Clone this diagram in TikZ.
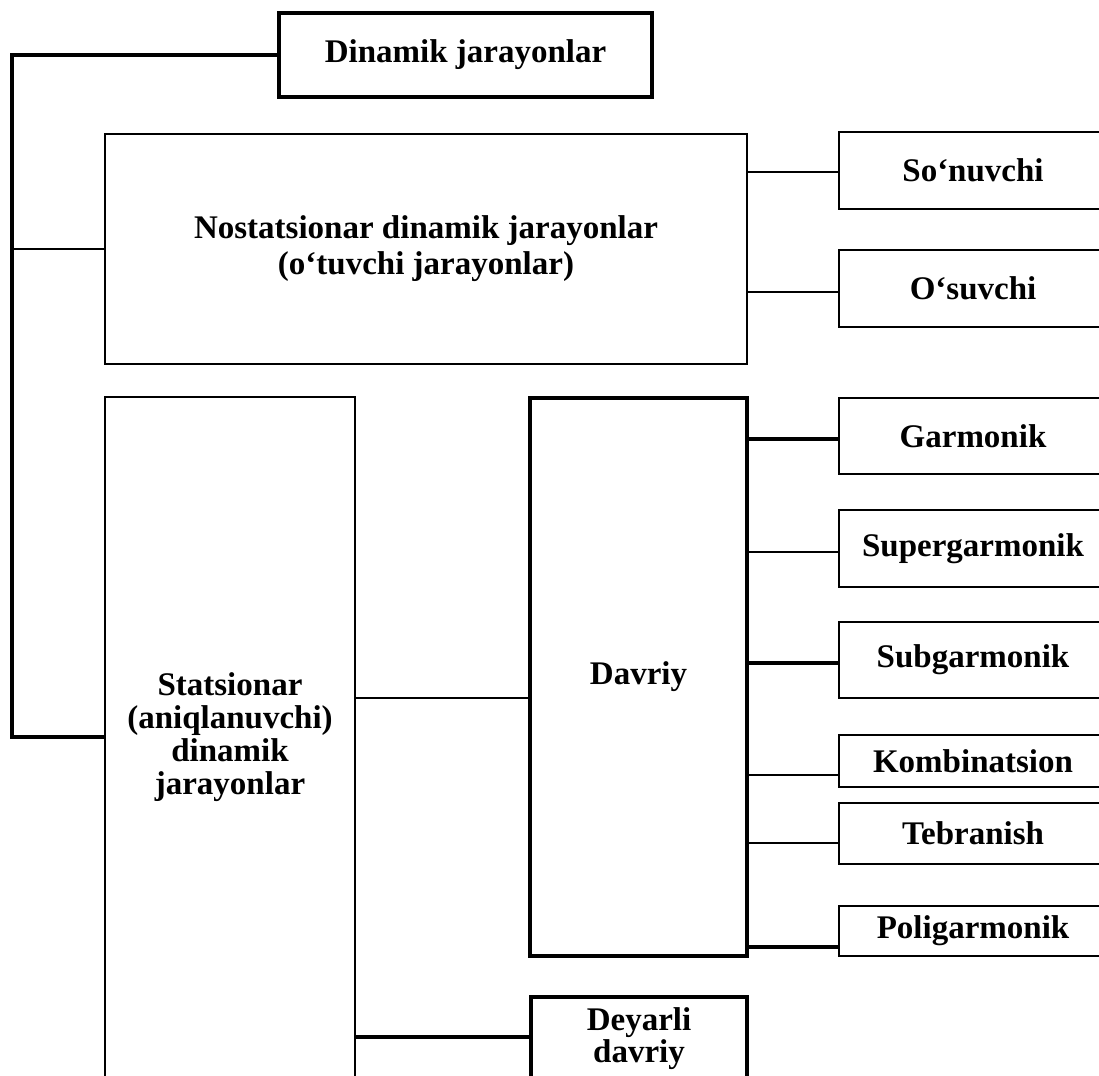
\documentclass[tikz,border=0pt]{standalone}
\usepackage{fontspec}
\setmainfont{Liberation Serif}
\begin{document}
\begin{tikzpicture}[x=1pt,y=-1pt,
  box/.style={draw, line width=2.2pt, inner sep=0pt, align=center,
    font=\fontsize{33}{33}\selectfont\bfseries},
  hbox/.style={box, line width=3.4pt},
  leaf/.style={box, minimum width=268pt},
  link/.style={line width=2.2pt},
  hlink/.style={line width=3.4pt}]
\useasboundingbox (0,0) rectangle (1099,1075);
\fill[white] (0,0) rectangle (1099,1075);

% main nodes
\node[hbox, minimum width=373pt, minimum height=84pt] (dyn) at (465.5,55) {Dinamik jarayonlar};
\node[box, minimum width=642pt, minimum height=230pt,
      font=\fontsize{33}{36}\selectfont\bfseries] (nost) at (426,249)
      {Nostatsionar dinamik jarayonlar\\(o‘tuvchi jarayonlar)};
\node[box, minimum width=250pt, minimum height=680pt] (stat) at (230,737)
      {Statsionar\\(aniqlanuvchi)\\dinamik\\jarayonlar};
\node[hbox, minimum width=217pt, minimum height=558pt] (davr) at (638.5,677) {Davriy};
\node[hbox, minimum width=216pt, minimum height=84pt,
      font=\fontsize{33}{32}\selectfont\bfseries] (deyar) at (639,1039) {Deyarli\\davriy};

% leaves
\node[leaf, minimum height=77pt] (sonu) at (973,170.5) {So‘nuvchi};
\node[leaf, minimum height=77pt] (osuv) at (973,288.5) {O‘suvchi};
\node[leaf, minimum height=76pt] (garm) at (973,436) {Garmonik};
\node[leaf, minimum height=77pt] (super) at (973,548.5) {Supergarmonik};
\node[leaf, minimum height=76pt] (subg) at (973,660) {Subgarmonik};
\node[leaf, minimum height=52pt] (komb) at (973,761) {Kombinatsion};
\node[leaf, minimum height=61pt] (tebr) at (973,833.5) {Tebranish};
\node[leaf, minimum height=50pt] (polig) at (973,931) {Poligarmonik};

% left spine
\coordinate (spT) at (12,55);
\draw[hlink] (dyn.west) -- (spT) |- (stat.west);
\draw[link] (spT |- nost.west) -- (nost.west);

% nostatsionar branches
\draw[link] ([yshift=-1.5pt]sonu.west) -- ([yshift=-1.5pt]sonu.west -| nost.east);
\draw[link] ([yshift=-3.5pt]osuv.west) -- ([yshift=-3.5pt]osuv.west -| nost.east);

% statsionar branches
\draw[link] ([yshift=39pt]stat.east) -- ([yshift=39pt]stat.east -| davr.west);
\draw[hlink] ([yshift=2pt]deyar.west) -- ([yshift=2pt]deyar.west -| stat.east);

% davriy branches
\draw[hlink] ([yshift=-3pt]garm.west) -- ([yshift=-3pt]garm.west -| davr.east);
\draw[link] ([yshift=-3.5pt]super.west) -- ([yshift=-3.5pt]super.west -| davr.east);
\draw[hlink] ([yshift=-3pt]subg.west) -- ([yshift=-3pt]subg.west -| davr.east);
\draw[link] ([yshift=-14pt]komb.west) -- ([yshift=-14pt]komb.west -| davr.east);
\draw[link] ([yshift=-9.5pt]tebr.west) -- ([yshift=-9.5pt]tebr.west -| davr.east);
\draw[hlink] ([yshift=-16pt]polig.west) -- ([yshift=-16pt]polig.west -| davr.east);
\end{tikzpicture}
\end{document}
